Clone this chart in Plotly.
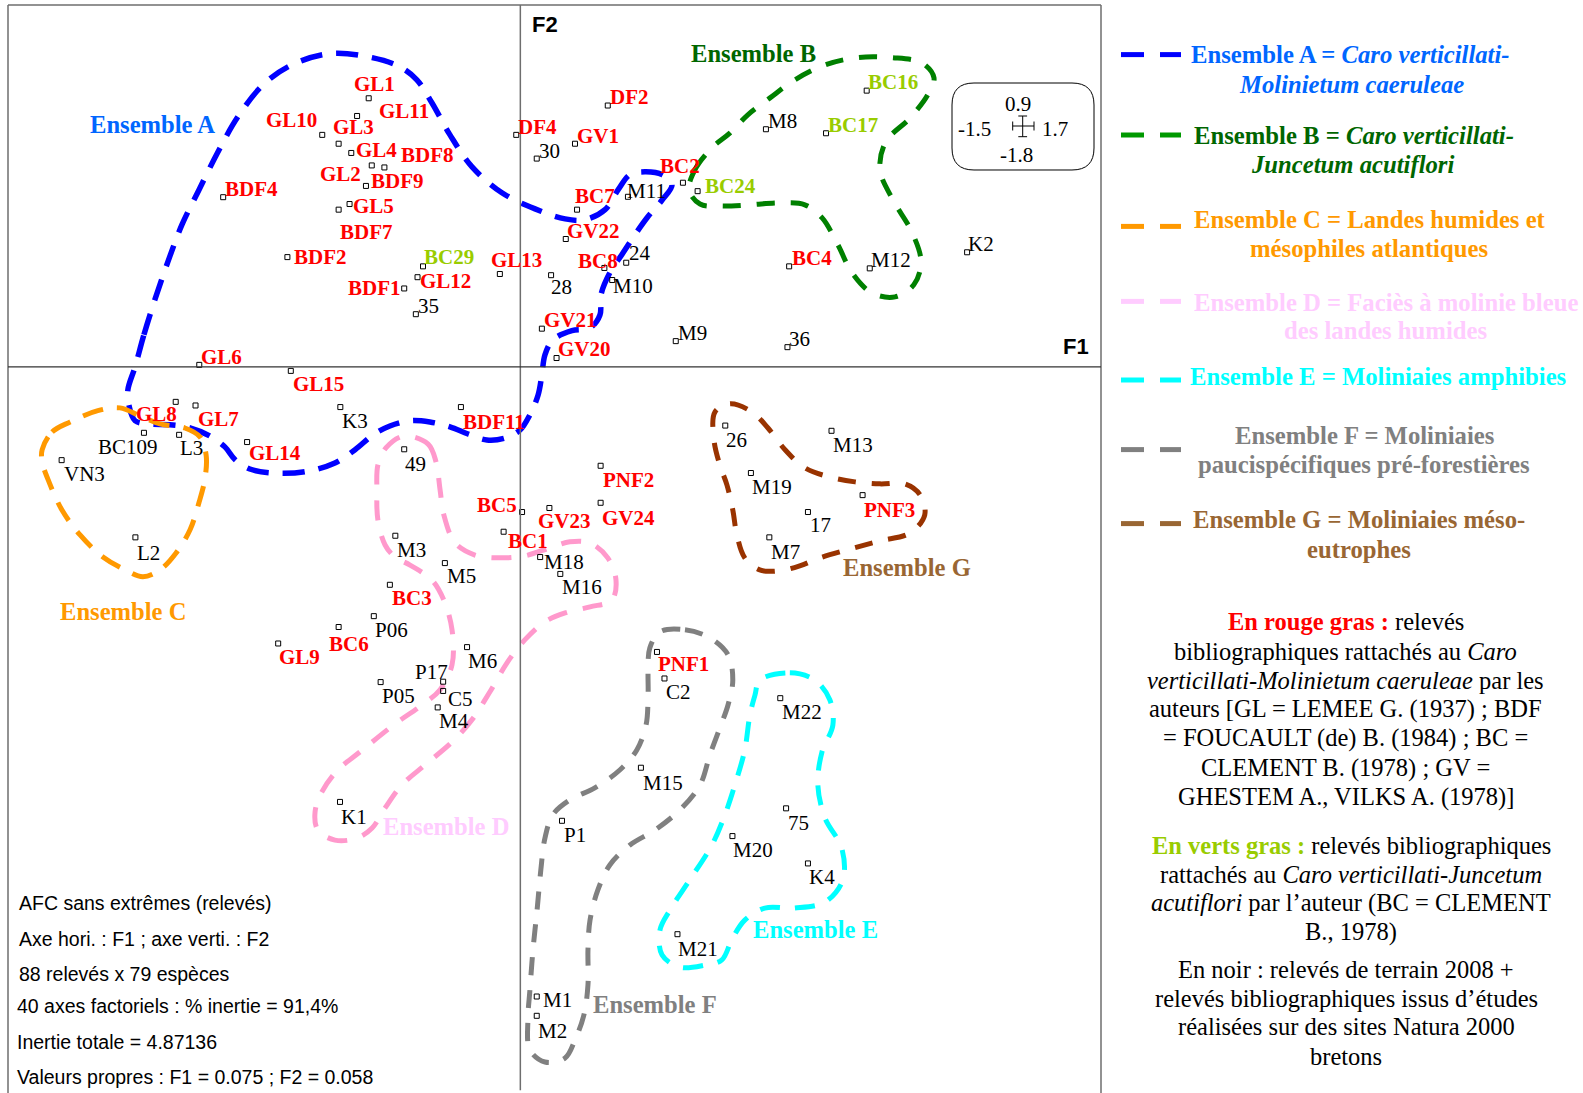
import plotly.graph_objects as go

W, H = 1583, 1093
SERIF = "Liberation Serif"
SANS = "Liberation Sans"

# ---------------- relevés : coordinates on F1 / F2 ----------------
# bibliographic relevés attached to the Caro verticillati-Molinietum (red, bold)
red_names = ["BDF4", "BDF2", "GL10", "GL1", "GL11", "GL3", "GL4", "GL2", "BDF8", "BDF9",
             "GL5", "BDF7", "GL12", "BDF1", "GL13", "DF4", "DF2", "GV1", "BC2", "BC7",
             "GV22", "BC8", "GV21", "GV20", "BC4", "GL6", "GL15", "GL8", "GL7", "GL14",
             "GL9", "BC6", "BDF11", "PNF2", "BC5", "GV23", "GV24", "BC1", "BC3", "PNF1", "PNF3"]
red_f1 = [-0.870, -0.682, -0.580, -0.444, -0.478, -0.532, -0.495, -0.435, -0.398, -0.452,
          -0.500, -0.532, -0.301, -0.340, -0.060, -0.012, 0.256, 0.160, 0.476, 0.166,
          0.133, 0.246, 0.063, 0.106, 0.787, -0.940, -0.672, -1.009, -0.951, -0.800,
          -0.709, -0.532, -0.174, 0.235, 0.005, 0.085, 0.235, -0.049, -0.382, 0.400, 1.002]
red_f2 = [0.422, 0.273, 0.577, 0.668, 0.624, 0.555, 0.532, 0.501, 0.496, 0.450,
          0.405, 0.391, 0.223, 0.195, 0.231, 0.577, 0.650, 0.555, 0.458, 0.391,
          0.318, 0.246, 0.095, 0.022, 0.250, 0.005, -0.010, -0.087, -0.096, -0.187,
          -0.688, -0.647, -0.100, -0.246, -0.361, -0.351, -0.338, -0.410, -0.542, -0.709, -0.319]

# bibliographic relevés attached to the Caro verticillati-Juncetum (green, bold)
green_names = ["BC29", "BC24", "BC16", "BC17"]
green_f1 = [-0.285, 0.519, 1.014, 0.895]
green_f2 = [0.250, 0.437, 0.687, 0.581]

# field relevés 2008 + Natura 2000 studies (black)
black_names = ["35", "30", "M11", "24", "M10", "28", "M9", "M8", "M12", "K2",
               "36", "K3", "BC109", "L3", "VN3", "L2", "49", "M3", "M18", "M16",
               "M5", "P06", "M6", "P17", "C5", "P05", "M4", "C2", "26", "M13",
               "M19", "17", "M7", "M22", "K1", "M15", "P1", "M21", "M1", "M2",
               "75", "M20", "K4"]
black_f1 = [-0.306, 0.048, 0.315, 0.310, 0.269, 0.090, 0.455, 0.719, 1.023, 1.308,
            0.782, -0.527, -1.102, -0.999, -1.343, -1.127, -0.340, -0.366, 0.058, 0.117,
            -0.221, -0.429, -0.156, -0.226, -0.226, -0.409, -0.242, 0.422, 0.600, 0.911,
            0.675, 0.842, 0.729, 0.761, -0.528, 0.353, 0.122, 0.460, 0.048, 0.048,
            0.778, 0.621, 0.842]
black_f2 = [0.131, 0.518, 0.423, 0.259, 0.216, 0.228, 0.064, 0.591, 0.245, 0.285,
            0.049, -0.100, -0.164, -0.169, -0.232, -0.424, -0.205, -0.420, -0.473, -0.515,
            -0.488, -0.620, -0.697, -0.783, -0.806, -0.784, -0.847, -0.775, -0.146, -0.159,
            -0.264, -0.361, -0.424, -0.824, -1.082, -0.997, -1.129, -1.411, -1.566, -1.614,
            -1.098, -1.167, -1.235]

# ---------------- hand-drawn outlines of the groups (F1 / F2) ----------------
ens_a_f1 = [-1.128, -1.102, -1.070, -1.032, -0.991, -0.941, -0.885, -0.827, -0.756, -0.674,
            -0.557, -0.434, -0.352, -0.303, -0.259, -0.206, -0.142, -0.054, 0.043, 0.131,
            0.189, 0.248, 0.286, 0.321, 0.365, 0.415, 0.444, 0.415, 0.371, 0.335,
            0.297, 0.262, 0.236, 0.233, 0.204, 0.151, 0.095, 0.072, 0.063, 0.052,
            0.028, -0.001, -0.045, -0.098, -0.153, -0.206, -0.265, -0.323, -0.382, -0.431,
            -0.484, -0.543, -0.631, -0.724, -0.792, -0.835, -0.865, -0.909, -0.967, -1.026,
            -1.084, -1.128, -1.146, -1.149, -1.128]
ens_a_f2 = [0.000, 0.080, 0.167, 0.261, 0.353, 0.440, 0.535, 0.622, 0.699, 0.749,
            0.779, 0.769, 0.746, 0.714, 0.657, 0.577, 0.498, 0.433, 0.393, 0.368,
            0.366, 0.391, 0.440, 0.478, 0.485, 0.478, 0.453, 0.415, 0.371, 0.328,
            0.279, 0.234, 0.179, 0.129, 0.097, 0.090, 0.067, 0.030, -0.020, -0.070,
            -0.119, -0.157, -0.177, -0.182, -0.167, -0.149, -0.137, -0.134, -0.147, -0.169,
            -0.206, -0.239, -0.261, -0.264, -0.254, -0.231, -0.199, -0.172, -0.152, -0.144,
            -0.142, -0.134, -0.095, -0.057, 0.000]

ens_b_f1 = [0.494, 0.511, 0.561, 0.614, 0.666, 0.731, 0.804, 0.892, 0.985, 1.088,
            1.176, 1.211, 1.193, 1.141, 1.070, 1.053, 1.091, 1.146, 1.173, 1.152,
            1.097, 1.029, 0.971, 0.930, 0.883, 0.833, 0.760, 0.672, 0.590, 0.526, 0.494]
ens_b_f2 = [0.440, 0.490, 0.545, 0.582, 0.627, 0.669, 0.714, 0.751, 0.769, 0.769,
            0.756, 0.719, 0.677, 0.619, 0.560, 0.490, 0.415, 0.336, 0.261, 0.204,
            0.174, 0.184, 0.234, 0.303, 0.371, 0.403, 0.408, 0.403, 0.400, 0.405, 0.440]

ens_c_f1 = [-1.400, -1.371, -1.318, -1.237, -1.172, -1.114, -1.055, -0.982, -0.938, -0.920,
            -0.923, -0.941, -0.967, -1.008, -1.055, -1.105, -1.157, -1.222, -1.289, -1.342,
            -1.380, -1.400, -1.400]
ens_c_f2 = [-0.206, -0.162, -0.137, -0.109, -0.102, -0.122, -0.142, -0.152, -0.174, -0.219,
            -0.276, -0.338, -0.405, -0.463, -0.505, -0.522, -0.505, -0.473, -0.418, -0.356,
            -0.286, -0.236, -0.206]

ens_d_f1 = [-0.341, -0.270, -0.247, -0.235, -0.224, -0.191, -0.133, -0.060, 0.013, 0.087,
            0.145, 0.204, 0.256, 0.280, 0.268, 0.204, 0.131, 0.072, 0.013, -0.039,
            -0.089, -0.142, -0.200, -0.279, -0.347, -0.396, -0.434, -0.478, -0.543, -0.593,
            -0.601, -0.581, -0.534, -0.470, -0.367, -0.288, -0.235, -0.200, -0.200, -0.224,
            -0.259, -0.323, -0.367, -0.396, -0.417, -0.420, -0.417, -0.393, -0.341]
ens_d_f2 = [-0.172, -0.192, -0.236, -0.306, -0.368, -0.438, -0.468, -0.475, -0.470, -0.450,
            -0.435, -0.438, -0.475, -0.530, -0.580, -0.597, -0.612, -0.634, -0.679, -0.736,
            -0.808, -0.878, -0.933, -0.990, -1.040, -1.097, -1.147, -1.172, -1.177, -1.152,
            -1.107, -1.057, -1.002, -0.958, -0.888, -0.841, -0.803, -0.741, -0.654, -0.580,
            -0.530, -0.493, -0.473, -0.443, -0.381, -0.306, -0.244, -0.201, -0.172]

ens_e_f1 = [0.701, 0.789, 0.862, 0.906, 0.915, 0.883, 0.871, 0.892, 0.941, 0.944,
            0.892, 0.804, 0.716, 0.657, 0.619, 0.590, 0.540, 0.467, 0.415, 0.409,
            0.438, 0.496, 0.561, 0.599, 0.628, 0.657, 0.672, 0.687, 0.701]
ens_e_f2 = [-0.779, -0.761, -0.779, -0.828, -0.891, -0.958, -1.040, -1.122, -1.197, -1.276,
            -1.331, -1.346, -1.346, -1.376, -1.425, -1.475, -1.488, -1.493, -1.463, -1.400,
            -1.351, -1.276, -1.189, -1.114, -1.040, -0.953, -0.866, -0.816, -0.779]

ens_f_f1 = [0.409, 0.482, 0.555, 0.608, 0.622, 0.608, 0.584, 0.555, 0.526, 0.467,
            0.394, 0.321, 0.262, 0.227, 0.204, 0.198, 0.198, 0.186, 0.160, 0.131,
            0.072, 0.028, 0.022, 0.028, 0.037, 0.049, 0.060, 0.072, 0.095, 0.145,
            0.218, 0.292, 0.341, 0.368, 0.374, 0.374, 0.379, 0.409]
ens_f_f2 = [-0.659, -0.654, -0.674, -0.716, -0.779, -0.841, -0.898, -0.965, -1.040, -1.102,
            -1.152, -1.189, -1.239, -1.301, -1.376, -1.450, -1.537, -1.612, -1.674, -1.719,
            -1.729, -1.699, -1.624, -1.550, -1.450, -1.351, -1.251, -1.172, -1.114, -1.077,
            -1.047, -1.002, -0.953, -0.891, -0.816, -0.754, -0.699, -0.659]

ens_g_f1 = [0.570, 0.614, 0.678, 0.725, 0.775, 0.833, 0.906, 0.980, 1.053, 1.126,
            1.170, 1.184, 1.141, 1.053, 0.965, 0.877, 0.818, 0.760, 0.701, 0.657,
            0.634, 0.622, 0.605, 0.584, 0.567, 0.570]
ens_g_f2 = [-0.112, -0.092, -0.112, -0.152, -0.206, -0.251, -0.274, -0.286, -0.291, -0.291,
            -0.318, -0.368, -0.413, -0.433, -0.453, -0.475, -0.495, -0.507, -0.505, -0.475,
            -0.418, -0.356, -0.294, -0.244, -0.182, -0.112]

# ---------------- label placement (pixels : right, up) ----------------
LABEL_OFFSET = {
    "BDF4": (1, 8), "BDF2": (6, 0), "GL10": (-57, 15), "GL1": (-16, 14), "GL11": (21, 5),
    "GL3": (-7, 17), "GL4": (4, 3), "GL2": (-53, -9), "BDF8": (16, 12), "BDF9": (4, 4.5),
    "GL5": (2, -1.5), "BDF7": (0, -22.5), "GL12": (1.6, -3.7), "BDF1": (-57, 0),
    "GL13": (-10, 14), "DF4": (0.4, 7.5), "DF2": (1.3, 8.2), "GV1": (1, 8), "BC2": (-24, 16.7),
    "BC7": (-3, 13.3), "GV22": (0.7, 7.7), "BC8": (-27, 7.2), "GV21": (0.7, 8.2),
    "GV20": (0.6, 8.8), "BC4": (1.4, 8), "GL6": (0.7, 7.5), "GL15": (1, -13.2),
    "GL8": (-40.7, -12.2), "GL7": (1, -13.5), "GL14": (0.7, -11.3), "GL9": (0, -13.3),
    "BC6": (-10.4, -16.5), "BDF11": (0.7, -15.2), "PNF2": (1, -14), "BC5": (-46, 7.5),
    "GV23": (-12.6, -12.8), "GV24": (0.6, -14.8), "BC1": (3.6, -9.3), "BC3": (0.7, -13.5),
    "PNF1": (-0.3, -12.2), "PNF3": (0.6, -14.7),
    "BC29": (0, 9), "BC24": (6.3, 5.3), "BC16": (0, 8.5), "BC17": (0.7, 8.5),
    "35": (1.3, 8.3), "30": (1, 7.7), "M11": (-2.3, 6.2), "24": (2, 10.2), "M10": (0, -5.8),
    "28": (-1.3, -12.2), "M9": (1, 8), "M8": (0.7, 8.5), "M12": (0.7, 7.9), "K2": (0, 8.1),
    "36": (0.6, 7.8), "K3": (0.4, -14), "BC109": (-47.3, -13.8), "L3": (0, -13.5),
    "VN3": (1, -14.2), "L2": (0.7, -15.2), "49": (0, -14.4), "M3": (0.7, -14.3),
    "M18": (3, -5.2), "M16": (0.7, -13.5), "M5": (0.7, -13.3), "P06": (0.3, -13.4),
    "M6": (0.3, -13.8), "P17": (-29.3, 9.2), "C5": (3.4, -7.8), "P05": (0.6, -13.8),
    "M4": (0.6, -13.3), "C2": (0.6, -13.8), "26": (0, -14.3), "M13": (0, -14.2),
    "M19": (0, -13.9), "17": (1.3, -13), "M7": (0.7, -14.2), "M22": (0.4, -14.2),
    "K1": (0, -14.8), "M15": (0.7, -14.8), "P1": (0.7, -13.8), "M21": (0, -14.9),
    "M1": (5, -3.3), "M2": (0, -14.8), "75": (0.7, -14.2), "M20": (0, -13.5), "K4": (0.3, -13.4),
}

fig = go.Figure()


def px(x, y):
    """Pixel position on the page -> paper coordinates."""
    return x / W, 1 - y / H


# group outlines
outlines = [
    (ens_a_f1, ens_a_f2, "#0000FF", 5.5, "22px,14px"),
    (ens_b_f1, ens_b_f2, "#008000", 5, "18px,16px"),
    (ens_c_f1, ens_c_f2, "#FF9900", 5, "21px,14px"),
    (ens_d_f1, ens_d_f2, "#FF99CC", 5, "20px,16px"),
    (ens_e_f1, ens_e_f2, "#00FFFF", 5, "20px,15px"),
    (ens_f_f1, ens_f_f2, "#808080", 5, "18px,15px"),
    (ens_g_f1, ens_g_f2, "#993300", 5, "18px,16px"),
]
for xs, ys, col, w, dash in outlines:
    fig.add_trace(go.Scatter(x=xs, y=ys, mode="lines",
                             line=dict(color=col, width=w, dash=dash, shape="spline", smoothing=1.0),
                             hoverinfo="skip"))

# relevé markers
all_f1 = red_f1 + green_f1 + black_f1
all_f2 = red_f2 + green_f2 + black_f2
fig.add_trace(go.Scatter(x=all_f1, y=all_f2, mode="markers",
                         marker=dict(symbol="square-open", size=5, color="black", line=dict(width=1)),
                         hoverinfo="skip"))

# relevé labels
label_groups = [
    (red_names, red_f1, red_f2, "#FF0000", True),
    (green_names, green_f1, green_f2, "#99CC00", True),
    (black_names, black_f1, black_f2, "#000000", False),
]
for names, xs, ys, col, bold in label_groups:
    for n, x, y in zip(names, xs, ys):
        dx, dy = LABEL_OFFSET[n]
        fig.add_annotation(x=x, y=y, xref="x", yref="y", text=f"<b>{n}</b>" if bold else n,
                           showarrow=False, xanchor="left", yanchor="middle", xshift=dx, yshift=dy,
                           borderpad=0, font=dict(family=SERIF, size=21, color=col))

# group names inside the plane
group_labels = [
    ("Ensemble A", -1.078, 0.602, "#0066FF"),
    ("Ensemble B", 0.682, 0.779, "#006600"),
    ("Ensemble C", -1.162, -0.609, "#FF9900"),
    ("Ensemble D", -0.218, -1.144, "#FFCCFF"),
    ("Ensemble E", 0.865, -1.399, "#00FFFF"),
    ("Ensemble F", 0.394, -1.587, "#808080"),
    ("Ensemble G", 1.133, -0.498, "#996633"),
]
for t, x, y, col in group_labels:
    fig.add_annotation(x=x, y=y, xref="x", yref="y", text=f"<b>{t}</b>", showarrow=False,
                       xanchor="center", yanchor="middle", borderpad=0,
                       font=dict(family=SERIF, size=24.6, color=col))

shapes = []


def pline(x0, y0, x1, y1, color="black", width=1.0):
    a, b = px(x0, y0)
    c, d = px(x1, y1)
    shapes.append(dict(type="line", xref="paper", yref="paper", x0=a, y0=b, x1=c, y1=d,
                       line=dict(color=color, width=width)))


# frame of the factorial plane
FRAME = "#6E6E6E"
pline(8, 5, 1101, 5, FRAME, 1.5)
pline(8, 5, 8, 1093, FRAME, 1.5)
pline(1101, 5, 1101, 1093, FRAME, 1.5)

# factorial axes
shapes.append(dict(type="line", xref="x", yref="y", x0=0, y0=-1.8, x1=0, y1=0.9,
                   line=dict(color="#6E6E6E", width=1.5)))
shapes.append(dict(type="line", xref="x", yref="y", x0=-1.5, y0=0, x1=1.7, y1=0,
                   line=dict(color="#333333", width=1.2)))

# scale inset (rounded box)
bx0, by0, bx1, by1, r = 952, 83, 1094, 170, 22


def P(x, y):
    a, b = px(x, y)
    return f"{a:.6f},{b:.6f}"


path = (f"M {P(bx0 + r, by0)} L {P(bx1 - r, by0)} Q {P(bx1, by0)} {P(bx1, by0 + r)} "
        f"L {P(bx1, by1 - r)} Q {P(bx1, by1)} {P(bx1 - r, by1)} "
        f"L {P(bx0 + r, by1)} Q {P(bx0, by1)} {P(bx0, by1 - r)} "
        f"L {P(bx0, by0 + r)} Q {P(bx0, by0)} {P(bx0 + r, by0)} Z")
shapes.append(dict(type="path", xref="paper", yref="paper", path=path,
                   line=dict(color="black", width=1)))
cx, cy = 1022.7, 126
pline(1012.7, cy, 1034, cy)
pline(1012.7, cy - 4.5, 1012.7, cy + 4.5)
pline(1034, cy - 4.5, 1034, cy + 4.5)
pline(cx, 116, cx, 136.7)
pline(cx - 4.4, 116, cx + 4.4, 116)
pline(cx - 4.4, 136.7, cx + 4.4, 136.7)


def ptext(x, y, text, size, color="black", family=SERIF, xanchor="center"):
    a, b = px(x, y)
    fig.add_annotation(x=a, y=b, xref="paper", yref="paper", text=text, showarrow=False,
                       xanchor=xanchor, yanchor="middle", borderpad=0,
                       font=dict(family=family, size=size, color=color))


ptext(1018.3, 104, "0.9", 21)
ptext(974, 129.5, "-1.5", 21)
ptext(1055, 129.5, "1.7", 21)
ptext(1016.3, 154.5, "-1.8", 21)

# axis names
ptext(544.5, 25, "<b>F2</b>", 22, family=SANS)
ptext(1075.5, 346.5, "<b>F1</b>", 22, family=SANS)

# analysis summary
summary = [
    (18, 903, "AFC sans extrêmes (relevés)"),
    (18, 939, "Axe hori. : F1 ; axe verti. : F2"),
    (18, 974, "88 relevés x 79 espèces"),
    (16, 1006, "40 axes factoriels : % inertie = 91,4%"),
    (16, 1042, "Inertie totale = 4.87136"),
    (16, 1077, "Valeurs propres : F1 = 0.075 ; F2 = 0.058"),
]
for x, y, t in summary:
    ptext(x, y, t, 19.5, family=SANS, xanchor="left")

# key of the groups
key = [
    ("#0000FF", "#0066FF", 54.6, [(1350.5, 54.6, "<b>Ensemble A = <i>Caro verticillati-</i></b>"),
                                  (1351, 84.3, "<b><i>Molinietum caeruleae</i></b>")]),
    ("#009900", "#006600", 135, [(1353.5, 135, "<b>Ensemble B = <i>Caro verticillati-</i></b>"),
                                 (1352.5, 164.6, "<b><i>Juncetum acutiflori</i></b>")]),
    ("#FF9900", "#FF9900", 226.4, [(1370, 219, "<b>Ensemble C = Landes humides et</b>"),
                                   (1369, 248.6, "<b>mésophiles atlantiques</b>")]),
    ("#FFCCFF", "#FFCCFF", 301.4, [(1386, 302, "<b>Ensemble D = Faciès à molinie bleue</b>"),
                                   (1385.5, 331, "<b>des landes humides</b>")]),
    ("#00FFFF", "#00FFFF", 380, [(1378, 377, "<b>Ensemble E = Moliniaies amphibies</b>")]),
    ("#808080", "#808080", 449.6, [(1364, 435, "<b>Ensemble F = Moliniaies</b>"),
                                   (1363.5, 464.6, "<b>paucispécifiques pré-forestières</b>")]),
    ("#996633", "#996633", 523.6, [(1358.5, 519, "<b>Ensemble G = Moliniaies méso-</b>"),
                                   (1358.5, 549.6, "<b>eutrophes</b>")]),
]
for dash_col, text_col, ydash, lines in key:
    pline(1121, ydash, 1144, ydash, dash_col, 5)
    pline(1160, ydash, 1181, ydash, dash_col, 5)
    for x, y, t in lines:
        ptext(x, y, t, 24.7, color=text_col)

# notes on the colour code of the labels
notes = [
    (1345.5, 621.7, '<b><span style="color:#FF0000">En rouge gras :</span></b> relevés'),
    (1345.5, 651, "bibliographiques rattachés au <i>Caro</i>"),
    (1345.5, 680, "<i>verticillati-Molinietum caeruleae</i> par les"),
    (1345.5, 709.3, "auteurs [GL = LEMEE G. (1937) ; BDF"),
    (1345.5, 738.3, "= FOUCAULT (de) B. (1984) ; BC ="),
    (1345.5, 767.7, "CLEMENT B. (1978) ; GV ="),
    (1345.5, 797.3, "GHESTEM A., VILKS A. (1978)]"),
    (1351, 845, '<b><span style="color:#99CC00">En verts gras :</span></b> relevés bibliographiques'),
    (1351, 874.3, "rattachés au <i>Caro verticillati-Juncetum</i>"),
    (1351, 902.7, "<i>acutiflori</i> par l’auteur (BC = CLEMENT"),
    (1351, 931.7, "B., 1978)"),
    (1346, 969.3, "En noir : relevés de terrain 2008 +"),
    (1346, 998.3, "relevés bibliographiques issus d’études"),
    (1346, 1026.7, "réalisées sur des sites Natura 2000"),
    (1346, 1056.7, "bretons"),
]
for x, y, t in notes:
    ptext(x, y, t, 24.5)

fig.update_layout(
    width=W, height=H,
    margin=dict(l=0, r=0, t=0, b=0),
    paper_bgcolor="white", plot_bgcolor="white",
    showlegend=False,
    shapes=shapes,
    xaxis=dict(domain=[8 / W, 1101 / W], range=[-1.5, 1.7], visible=False, fixedrange=True),
    yaxis=dict(domain=[(H - 1090.6) / H, (H - 5) / H], range=[-1.8, 0.9], visible=False,
               fixedrange=True),
)

fig.write_html("out.html")
